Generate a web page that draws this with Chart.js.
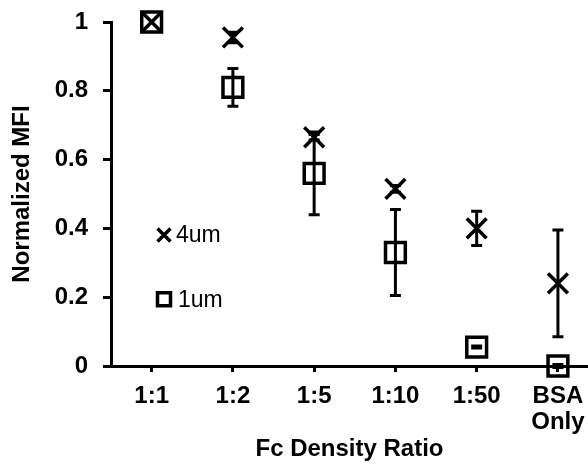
<!DOCTYPE html>
<html>
<head>
<meta charset="utf-8">
<script src="https://cdn.jsdelivr.net/npm/chart.js@4/dist/chart.umd.min.js"></script>
<style>
html, body { margin: 0; padding: 0; background: #fff; overflow: hidden; }
#wrap { width: 588px; height: 464px; }
</style>
</head>
<body>
<div id="wrap"><canvas id="mfiChart" width="588" height="464"></canvas></div>
<script>
// categories and measured values
const categories = ['1:1', '1:2', '1:5', '1:10', '1:50', ['BSA', 'Only']];
const mfi4um = [1.0, 0.955, 0.665, 0.515, 0.40, 0.24];
const err4um = [0, 0.015, 0.008, 0.01, 0.05, 0.155];
const mfi1um = [1.0, 0.81, 0.56, 0.33, 0.055, 0.0];
const err1um = [0, 0.055, 0.12, 0.125, 0.003, 0.004];
const yTicks = [0, 0.2, 0.4, 0.6, 0.8, 1];

const boldFont = { family: '"Liberation Sans", Arial, sans-serif', size: 24, weight: 'bold', lineHeight: 1.2 };
const tickFont = { family: '"Liberation Sans", Arial, sans-serif', size: 24, weight: 'bold', lineHeight: 1.08 };

const toPoints = vals => vals.map((v, i) => ({ x: i + 1, y: v }));

// vertical error bars with caps
const errorBars = {
    id: 'errorBars',
    beforeDatasetsDraw(chart) {
        const { ctx, scales: { x, y } } = chart;
        ctx.save();
        ctx.strokeStyle = '#000';
        ctx.lineWidth = 3;
        chart.data.datasets.forEach(ds => {
            ds.data.forEach((p, i) => {
                const e = ds.errors[i];
                if (!e) return;
                const px = x.getPixelForValue(p.x);
                const top = y.getPixelForValue(p.y + e);
                const bot = y.getPixelForValue(p.y - e);
                ctx.beginPath();
                ctx.moveTo(px, top); ctx.lineTo(px, bot);
                ctx.moveTo(px - 5.5, top); ctx.lineTo(px + 5.5, top);
                ctx.moveTo(px - 5.5, bot); ctx.lineTo(px + 5.5, bot);
                ctx.stroke();
            });
        });
        ctx.restore();
    }
};

// legend sitting inside the plot, left side
const insideLegend = {
    id: 'insideLegend',
    afterDraw(chart) {
        const { ctx, chartArea } = chart;
        const h = chartArea.bottom - chartArea.top;
        const mx = chartArea.left + 53;
        const rows = [
            { label: chart.data.datasets[0].label, style: 'cross', y: chartArea.top + h * 0.619 },
            { label: chart.data.datasets[1].label, style: 'rect', y: chartArea.top + h * 0.806 }
        ];
        ctx.save();
        ctx.strokeStyle = '#000';
        ctx.fillStyle = '#000';
        ctx.lineWidth = 3.5;
        ctx.font = '23px "Liberation Sans", Arial, sans-serif';
        ctx.textBaseline = 'middle';
        rows.forEach(r => {
            ctx.beginPath();
            if (r.style === 'cross') {
                ctx.moveTo(mx - 6.5, r.y - 6.5); ctx.lineTo(mx + 6.5, r.y + 6.5);
                ctx.moveTo(mx + 6.5, r.y - 6.5); ctx.lineTo(mx - 6.5, r.y + 6.5);
                ctx.stroke();
                ctx.fillText(r.label, mx + 12, r.y + 1);
            } else {
                ctx.rect(mx - 6.5, r.y - 6.5, 13, 13);
                ctx.stroke();
                ctx.fillText(r.label, mx + 14, r.y + 1);
            }
        });
        ctx.restore();
    }
};

const ctx = document.getElementById('mfiChart').getContext('2d');

const mfiChart = new Chart(ctx, {
    type: 'scatter',
    data: {
        datasets: [
            {
                label: '4um',
                data: toPoints(mfi4um),
                errors: err4um,
                pointStyle: 'crossRot',
                pointRadius: 14,
                pointBorderWidth: 3.5,
                pointBorderColor: '#000',
                pointBackgroundColor: '#000',
                clip: false
            },
            {
                label: '1um',
                data: toPoints(mfi1um),
                errors: err1um,
                pointStyle: 'rect',
                pointRadius: 14,
                pointBorderWidth: 3.5,
                pointBorderColor: '#000',
                pointBackgroundColor: 'rgba(0,0,0,0)',
                clip: false
            }
        ]
    },
    options: {
        responsive: false,
        devicePixelRatio: 1,
        animation: false,
        events: [],
        layout: { autoPadding: false, padding: { top: 22, left: 0, right: 0, bottom: 0 } },
        plugins: {
            legend: { display: false },
            tooltip: { enabled: false }
        },
        scales: {
            x: {
                type: 'linear',
                min: 0.5,
                max: 6.37,
                afterBuildTicks: s => { s.ticks = categories.map((c, i) => ({ value: i + 1 })); },
                afterFit: s => { s.height = 98; s.paddingLeft = 0; s.paddingRight = 0; },
                ticks: {
                    callback: (v, i) => categories[i],
                    font: tickFont,
                    color: '#000',
                    padding: 11,
                    autoSkip: false,
                    maxRotation: 0
                },
                grid: { drawOnChartArea: false, drawTicks: true, tickLength: 6, lineWidth: 3, color: '#000' },
                border: { display: true, width: 3, color: '#000' },
                title: { display: true, text: 'Fc Density Ratio', font: boldFont, color: '#000', padding: { top: 0, bottom: 0 } }
            },
            y: {
                min: 0,
                max: 1,
                afterBuildTicks: s => { s.ticks = yTicks.map(v => ({ value: v })); },
                afterFit: s => { s.width = 111; s.paddingTop = 0; s.paddingBottom = 0; },
                ticks: { callback: v => String(v), font: boldFont, color: '#000', padding: 15 },
                grid: { drawOnChartArea: false, drawTicks: true, tickLength: 8, lineWidth: 3, color: '#000' },
                border: { display: true, width: 3, color: '#000' },
                title: { display: true, text: 'Normalized MFI', font: boldFont, color: '#000', padding: { top: 8, bottom: 0 } }
            }
        }
    },
    plugins: [errorBars, insideLegend]
});
</script>
</body>
</html>
